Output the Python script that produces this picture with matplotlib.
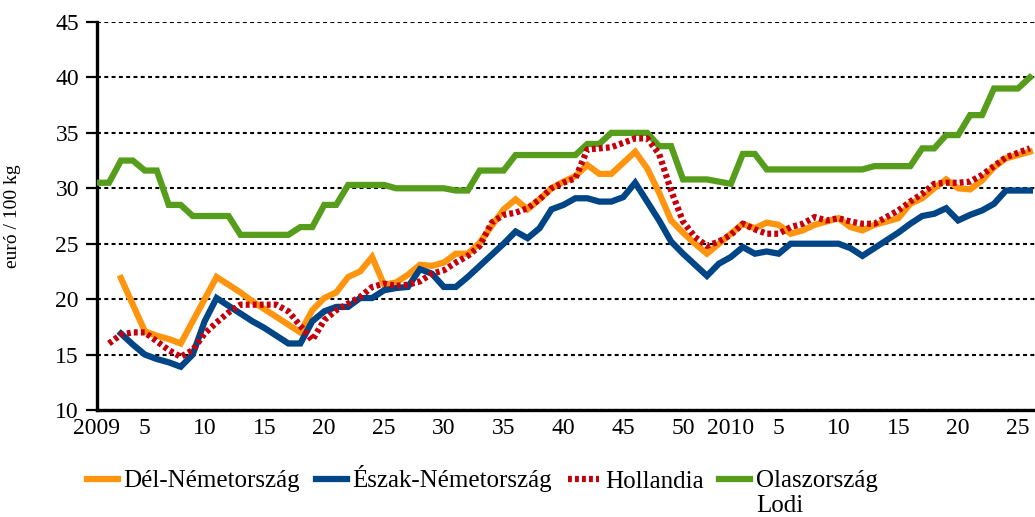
import numpy as np
import matplotlib
matplotlib.use("Agg")
import matplotlib.pyplot as plt
from matplotlib.lines import Line2D

nan = np.nan

# ---- data (weekly prices, euró / 100 kg) : 2009 wk1 .. wk53, 2010 wk1 .. wk26
del_nemetorszag = [nan, nan, 21.9, 19.5, 17.1, 16.7, 16.4, 16.0, 18.0, 20.0,
                   22.0, 21.3, 20.6, 19.8, 19.1, 18.4, 17.7, 17.0, 19.0, 20.1,
                   20.6, 22.0, 22.5, 23.8, 21.3, 21.5, 22.2, 23.1, 23.0, 23.3,
                   24.1, 24.1, 25.1, 26.6, 28.1, 29.0, 28.1, 29.0, 30.0, 30.6,
                   31.1, 32.1, 31.3, 31.3, 32.3, 33.3, 31.8, 29.6, 27.1, 26.0,
                   25.0, 24.1, 25.0, 25.9, 26.8, 26.4, 26.9, 26.7, 25.9, 26.2,
                   26.7, 27.0, 27.3, 26.5, 26.2, 26.7, 27.0, 27.3, 28.6, 29.1,
                   30.0, 30.8, 30.0, 29.9, 30.7, 31.9, 32.7, 33.0, 33.3]

eszak_nemetorszag = [nan, nan, 16.9, 15.9, 15.0, 14.6, 14.3, 13.9, 15.0, 18.0,
                     20.1, 19.4, 18.7, 18.0, 17.4, 16.7, 16.0, 16.0, 18.0, 18.9,
                     19.3, 19.3, 20.1, 20.1, 20.8, 21.0, 21.1, 22.7, 22.3, 21.1,
                     21.1, 22.0, 23.0, 24.0, 25.0, 26.1, 25.5, 26.4, 28.1, 28.5,
                     29.1, 29.1, 28.8, 28.8, 29.2, 30.5, 28.8, 27.1, 25.2, 24.1,
                     23.1, 22.1, 23.2, 23.8, 24.7, 24.1, 24.3, 24.1, 25.0, 25.0,
                     25.0, 25.0, 25.0, 24.6, 23.9, 24.6, 25.3, 26.0, 26.8, 27.5,
                     27.7, 28.2, 27.1, 27.6, 28.0, 28.6, 29.8, 29.8, 29.8]

hollandia = [nan, 16.0, 16.8, 17.0, 17.0, 16.2, 15.4, 14.8, 15.4, 16.9,
             17.9, 18.8, 19.5, 19.5, 19.5, 19.5, 18.9, 17.6, 16.3, 18.1,
             19.0, 19.6, 20.2, 21.1, 21.4, 21.2, 21.3, 21.6, 22.3, 22.6,
             23.3, 23.9, 24.8, 26.9, 27.6, 27.8, 28.2, 29.0, 30.0, 30.5,
             30.9, 33.5, 33.6, 33.7, 34.1, 34.5, 34.5, 33.1, 29.8, 27.0,
             25.6, 24.8, 25.2, 25.8, 26.8, 26.3, 25.9, 25.9, 26.5, 26.8,
             27.4, 27.1, 27.3, 27.0, 26.8, 26.8, 27.4, 28.0, 28.8, 29.5,
             30.4, 30.5, 30.5, 30.6, 31.2, 32.0, 32.8, 33.2, 33.6]

olaszorszag_lodi = [30.5, 30.5, 32.5, 32.5, 31.6, 31.6, 28.5, 28.5, 27.5, 27.5,
                    27.5, 27.5, 25.8, 25.8, 25.8, 25.8, 25.8, 26.5, 26.5, 28.5,
                    28.5, 30.3, 30.3, 30.3, 30.3, 30.0, 30.0, 30.0, 30.0, 30.0,
                    29.8, 29.8, 31.6, 31.6, 31.6, 33.0, 33.0, 33.0, 33.0, 33.0,
                    33.0, 34.0, 34.0, 35.0, 35.0, 35.0, 35.0, 33.8, 33.8, 30.8,
                    30.8, 30.8, 30.6, 30.4, 33.1, 33.1, 31.7, 31.7, 31.7, 31.7,
                    31.7, 31.7, 31.7, 31.7, 31.7, 32.0, 32.0, 32.0, 32.0, 33.6,
                    33.6, 34.8, 34.8, 36.6, 36.6, 39.0, 39.0, 39.0, 40.0]

series_labels = ["Dél-Németország", "Észak-Németország", "Hollandia", "Olaszország"]
series_extra_line = "Lodi"
y_label = "euró / 100 kg"

tick_positions = [0, 4, 9, 14, 19, 24, 29, 34, 39, 44, 49, 53, 57, 62, 67, 72, 77]
tick_labels = ["2009", "5", "10", "15", "20", "25", "30", "35", "40", "45", "50",
               "2010", "5", "10", "15", "20", "25"]
y_ticks = [10, 15, 20, 25, 30, 35, 40, 45]

# ---- style
colors = ["#ff950e", "#004586", "#c5000b", "#579d1c"]
plt.rcParams["font.family"] = ["Liberation Serif", "DejaVu Serif"]
FS_TICK = 17
FS_LEG = 18
FS_YLAB = 14

W, H = 1035, 517
fig = plt.figure(figsize=(W / 100, H / 100), dpi=100)
left, right, top, bottom = 97, 1035, 22, 410
ax = fig.add_axes([left / W, 1 - bottom / H, (right - left) / W, (bottom - top) / H])

x = np.arange(len(olaszorszag_lodi))
lw = 4.5
dash = (0, (0.62, 0.5))
ax.plot(x, del_nemetorszag, color=colors[0], lw=lw, solid_joinstyle="miter", zorder=3)
ax.plot(x, eszak_nemetorszag, color=colors[1], lw=lw, solid_joinstyle="miter", zorder=3)
ax.plot(x, hollandia, color=colors[2], lw=lw, linestyle=dash, dash_capstyle="butt", zorder=4)
ax.plot(x, olaszorszag_lodi, color=colors[3], lw=lw, solid_joinstyle="miter", zorder=3)

ax.set_xlim(0, (right - left) / 11.96)
ax.set_ylim(10, 45)
ax.set_yticks(y_ticks)
ax.set_xticks(tick_positions)
ax.set_xticklabels(tick_labels)
ax.tick_params(axis="y", length=8, width=1.6, pad=5, labelsize=FS_TICK, direction="out")
ax.tick_params(axis="x", length=0, pad=6, labelsize=FS_TICK)
for s in ["top", "right"]:
    ax.spines[s].set_visible(False)
for s in ["left", "bottom"]:
    ax.spines[s].set_linewidth(2.4)
ax.yaxis.grid(True, color="black", linestyle=(0, (1.9, 1.6)), linewidth=1.5)
ax.set_axisbelow(True)
ax.set_ylabel(y_label, fontsize=FS_YLAB)
ax.yaxis.set_label_coords(-(97 - 21) / (right - left), 0.5)

handles = [Line2D([], [], color=colors[0], lw=lw),
           Line2D([], [], color=colors[1], lw=lw),
           Line2D([], [], color=colors[2], lw=lw, linestyle=dash, dash_capstyle="butt"),
           Line2D([], [], color=colors[3], lw=lw)]
leg = fig.legend(handles, series_labels, loc="center left",
                 bbox_to_anchor=(87 / W, 1 - 479 / H), ncol=4, frameon=False,
                 fontsize=FS_LEG, handlelength=1.24, handletextpad=0.22,
                 columnspacing=0.64, borderpad=0, borderaxespad=0)

fig.canvas.draw()
r = fig.canvas.get_renderer()
bb = leg.texts[3].get_window_extent(r)
fig.text(bb.x0 / W, (bb.y0 + bb.y1) / 2 / H - 24 / H, series_extra_line,
         fontsize=FS_LEG, ha="left", va="center")

fig.savefig("out.png", dpi=100)
